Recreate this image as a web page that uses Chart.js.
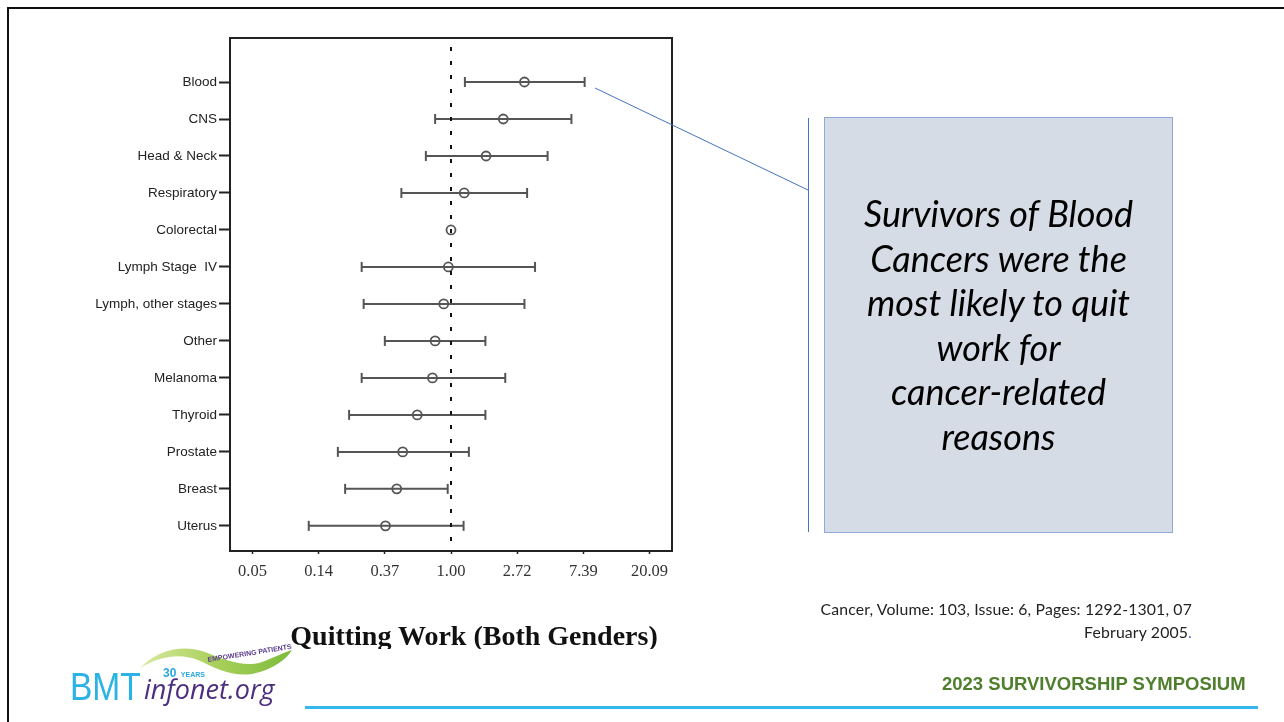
<!DOCTYPE html>
<html>
<head>
<meta charset="utf-8">
<script src="https://cdn.jsdelivr.net/npm/chart.js@4.4.1/dist/chart.umd.min.js"></script>
<style>
  html, body { margin:0; padding:0; background:#fff; }
  body { width:1284px; height:722px; position:relative; overflow:hidden; }
  #c { position:absolute; left:0; top:0; }
  .abs { position:absolute; white-space:nowrap; }
</style>
</head>
<body>
<canvas id="c" width="1284" height="722"></canvas>

<!-- slide frame -->
<div class="abs" style="left:7px; top:7px; width:1290px; height:730px; border-left:2px solid #111; border-top:2px solid #111;"></div>

<!-- callout -->
<svg class="abs" style="left:0; top:0;" width="1284" height="722">
  <line x1="595" y1="88" x2="808" y2="190" stroke="#4472c4" stroke-width="1"/>
  <line x1="808.5" y1="118" x2="808.5" y2="532" stroke="#4472c4" stroke-width="1"/>
  <!-- logo swoosh -->
  <defs>
    <linearGradient id="gr" x1="0" y1="0" x2="1" y2="0">
      <stop offset="0" stop-color="#d7e9a0"/>
      <stop offset="0.5" stop-color="#a9d05a"/>
      <stop offset="1" stop-color="#7dbb3c"/>
    </linearGradient>
  </defs>
  <path d="M140 668 C 160 648, 185 645, 205 652 C 225 660, 245 668, 262 662 C 275 657, 285 652, 292 650 C 286 660, 272 670, 252 674 C 232 677, 215 668, 198 660 C 180 653, 160 656, 140 668 Z" fill="url(#gr)"/>
  <text x="208" y="662" transform="rotate(-9 208 662)" font-family="Liberation Sans" font-size="7" font-weight="bold" fill="#5b3a8e">EMPOWERING PATIENTS</text>
</svg>

<!-- text box -->
<div class="abs" style="left:824px; top:117px; width:347px; height:414px; background:#d6dce5; border:1px solid #8eaadb;"></div>
<div class="abs" style="left:824px; top:191px; width:349px; text-align:center; font-family:Lato, 'Open Sans', sans-serif; font-style:italic; font-weight:400; font-size:36px; line-height:44.6px; color:#000;">Survivors of Blood<br>Cancers were the<br>most likely to quit<br>work for<br>cancer-related<br>reasons</div>

<!-- chart title -->
<div class="abs" style="left:180px; top:615px; width:588px; height:34px; overflow:hidden;">
  <div style="position:absolute; left:0; top:7px; width:588px; text-align:center; font-family:'Liberation Serif', serif; font-weight:bold; font-size:28px; line-height:28px; color:#111;">Quitting Work (Both Genders)</div>
</div>

<!-- citation -->
<div class="abs" style="right:92px; top:597px; text-align:right; font-family:Lato, sans-serif; font-size:15.8px; letter-spacing:0.15px; line-height:23px; color:#222;">Cancer, Volume: 103, Issue: 6, Pages: 1292-1301, 07<br>February 2005<span style="color:#4472c4">.</span></div>

<!-- footer -->
<div class="abs" style="left:942px; top:674px; font-family:'Liberation Sans', Arial, sans-serif; font-weight:bold; font-size:18.5px; line-height:20px; color:#4f7f2d;">2023 SURVIVORSHIP SYMPOSIUM</div>
<div class="abs" style="left:305px; top:706px; width:953px; height:3px; background:#35b6ee;"></div>

<!-- logo -->
<div class="abs" style="left:70px; top:667px; font-family:'Liberation Sans', Arial, sans-serif; font-size:39px; line-height:40px; color:#2bb3e6; transform:scaleX(0.86); transform-origin:left top;">BMT</div>
<div class="abs" style="left:144px; top:672px; font-family:'Open Sans', sans-serif; font-style:italic; font-size:27px; line-height:34px; color:#4e2f7f;">infonet.org</div>
<div class="abs" style="left:163px; top:665px; font-family:'Liberation Sans', Arial, sans-serif; font-weight:bold; color:#2aa8e0; line-height:14px;"><span style="font-size:12px;">30</span> <span style="font-size:7px;">YEARS</span></div>

<script>
// ---- data (values on natural-log odds-ratio scale) ----
const categories = ["Blood","CNS","Head & Neck","Respiratory","Colorectal","Lymph Stage  IV","Lymph, other stages","Other","Melanoma","Thyroid","Prostate","Breast","Uterus"];
const logOR  = [1.11, 0.79, 0.53, 0.20, 0.00, -0.04, -0.11, -0.24, -0.28, -0.51, -0.73, -0.82, -0.99];
const ciLow  = [0.21, -0.24, -0.38, -0.75, null, -1.35, -1.32, -1.00, -1.35, -1.54, -1.71, -1.60, -2.15];
const ciHigh = [2.02, 1.82, 1.46, 1.15, null, 1.27, 1.11, 0.52, 0.82, 0.52, 0.27, -0.05, 0.19];
const tickValues = [-3, -2, -1, 0, 1, 2, 3];
const tickLabels = ["0.05","0.14","0.37","1.00","2.72","7.39","20.09"];
const refValue = 0;

// ---- build datasets ----
const ciLine = [];
const caps = [];
categories.forEach((c, i) => {
  if (ciLow[i] !== null && ciHigh[i] !== null) {
    ciLine.push({x: ciLow[i], y: i}, {x: ciHigh[i], y: i}, {x: null, y: null});
    caps.push({x: ciLow[i], y: i}, {x: ciHigh[i], y: i});
  }
});
const pts = logOR.map((v, i) => ({x: v, y: i}));

const frame = {
  id: 'frame',
  afterDraw(chart) {
    const {ctx, chartArea: a} = chart;
    ctx.save();
    ctx.strokeStyle = '#222';
    ctx.lineWidth = 2;
    ctx.strokeRect(a.left, a.top, a.right - a.left, a.bottom - a.top);
    ctx.restore();
  }
};

new Chart(document.getElementById('c'), {
  type: 'scatter',
  data: {
    datasets: [
      { data: [{x: refValue, y: -0.95}, {x: refValue, y: 12.68}], showLine: true, borderColor: '#111', borderWidth: 2, borderDash: [4, 10], pointRadius: 0 },
      { data: ciLine, showLine: true, spanGaps: false, borderColor: '#555', borderWidth: 2, pointRadius: 0 },
      { data: caps, pointStyle: 'line', rotation: 90, pointRadius: 5, borderColor: '#555', borderWidth: 2 },
      { data: pts, pointStyle: 'circle', pointRadius: 4.5, borderColor: '#555', borderWidth: 1.8, backgroundColor: 'rgba(0,0,0,0)' }
    ]
  },
  options: {
    responsive: false,
    animation: false,
    devicePixelRatio: 1,
    events: [],
    layout: { padding: { top: 38, right: 612, bottom: 0, left: 0 } },
    plugins: { legend: { display: false }, tooltip: { enabled: false } },
    scales: {
      x: {
        type: 'linear', min: -3.34, max: 3.34,
        afterBuildTicks: (s) => { s.ticks = tickValues.map(v => ({value: v})); },
        afterFit: (s) => { s.height = 171; },
        ticks: {
          callback: (v) => { const k = tickValues.indexOf(v); return k >= 0 ? tickLabels[k] : ''; },
          font: { family: 'Liberation Serif', size: 16.5 }, color: '#333', padding: 8, maxRotation: 0, autoSkip: false
        },
        grid: { drawOnChartArea: false, drawTicks: true, tickLength: 3, tickWidth: 1.5, tickColor: '#222' },
        border: { display: true, color: '#222', width: 2 }
      },
      y: {
        type: 'linear', reverse: true, min: -1.19, max: 12.68,
        afterBuildTicks: (s) => { s.ticks = categories.map((c, i) => ({value: i})); },
        afterFit: (s) => { s.width = 230; },
        ticks: {
          callback: (v) => categories[v] !== undefined ? categories[v] : '',
          font: { family: 'Liberation Sans', size: 13.5 }, color: '#222', padding: 2, autoSkip: false
        },
        grid: { drawOnChartArea: false, drawTicks: true, tickLength: 11, tickWidth: 2, tickColor: '#222' },
        border: { display: true, color: '#222', width: 2 }
      }
    }
  },
  plugins: [frame]
});
</script>
</body>
</html>
